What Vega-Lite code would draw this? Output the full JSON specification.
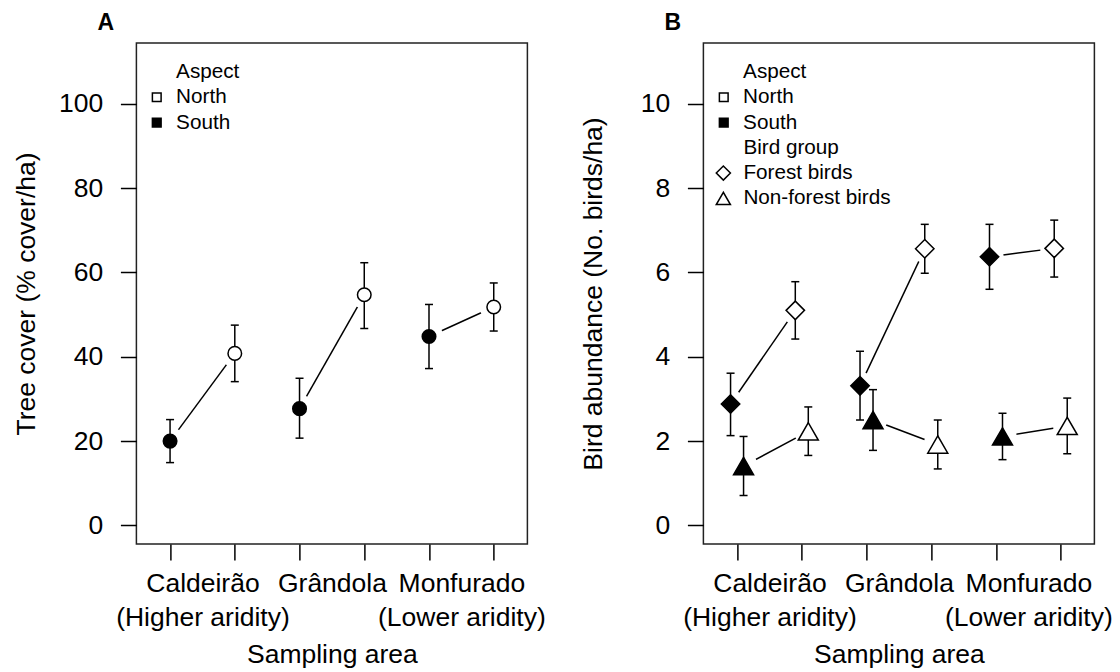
{
  "$schema": "https://vega.github.io/schema/vega-lite/v6.json",
  "background": "white",
  "padding": {"left": 12.4, "top": 11, "right": 0, "bottom": 0},
  "datasets": {
    "tree": [
      {"area": "Caldeirão", "aspect": "South", "site": "Caldeirão South", "mean": 20.0, "lo": 14.9, "hi": 25.1},
      {"area": "Caldeirão", "aspect": "North", "site": "Caldeirão North", "mean": 40.8, "lo": 34.1, "hi": 47.5},
      {"area": "Grândola", "aspect": "South", "site": "Grândola South", "mean": 27.7, "lo": 20.7, "hi": 34.9},
      {"area": "Grândola", "aspect": "North", "site": "Grândola North", "mean": 54.7, "lo": 46.7, "hi": 62.3},
      {"area": "Monfurado", "aspect": "South", "site": "Monfurado South", "mean": 44.8, "lo": 37.2, "hi": 52.4},
      {"area": "Monfurado", "aspect": "North", "site": "Monfurado North", "mean": 51.8, "lo": 46.1, "hi": 57.5}
    ],
    "birds": [
      {"area": "Caldeirão", "aspect": "South", "site": "Caldeirão South", "group": "Forest birds", "mean": 2.88, "lo": 2.13, "hi": 3.61},
      {"area": "Caldeirão", "aspect": "North", "site": "Caldeirão North", "group": "Forest birds", "mean": 5.10, "lo": 4.42, "hi": 5.78},
      {"area": "Grândola", "aspect": "South", "site": "Grândola South", "group": "Forest birds", "mean": 3.31, "lo": 2.50, "hi": 4.13},
      {"area": "Grândola", "aspect": "North", "site": "Grândola North", "group": "Forest birds", "mean": 6.56, "lo": 5.98, "hi": 7.14},
      {"area": "Monfurado", "aspect": "South", "site": "Monfurado South", "group": "Forest birds", "mean": 6.37, "lo": 5.60, "hi": 7.14},
      {"area": "Monfurado", "aspect": "North", "site": "Monfurado North", "group": "Forest birds", "mean": 6.57, "lo": 5.89, "hi": 7.24},
      {"area": "Caldeirão", "aspect": "South", "site": "Caldeirão South", "group": "Non-forest birds", "mean": 1.41, "lo": 0.71, "hi": 2.11},
      {"area": "Caldeirão", "aspect": "North", "site": "Caldeirão North", "group": "Non-forest birds", "mean": 2.23, "lo": 1.66, "hi": 2.81},
      {"area": "Grândola", "aspect": "South", "site": "Grândola South", "group": "Non-forest birds", "mean": 2.50, "lo": 1.78, "hi": 3.22},
      {"area": "Grândola", "aspect": "North", "site": "Grândola North", "group": "Non-forest birds", "mean": 1.92, "lo": 1.34, "hi": 2.50},
      {"area": "Monfurado", "aspect": "South", "site": "Monfurado South", "group": "Non-forest birds", "mean": 2.11, "lo": 1.56, "hi": 2.66},
      {"area": "Monfurado", "aspect": "North", "site": "Monfurado North", "group": "Non-forest birds", "mean": 2.36, "lo": 1.70, "hi": 3.02}
    ]
  },
  "bounds": "flush",
  "spacing": 176,
  "resolve": {
    "scale": {"x": "independent", "y": "independent", "fill": "independent", "stroke": "independent", "shape": "independent"},
    "legend": {"fill": "independent", "stroke": "independent", "shape": "independent"}
  },
  "hconcat": [
    {
      "width": 391,
      "height": 501,
      "title": {"text": "A", "anchor": "start", "frame": "group", "dx": -39, "offset": -10, "baseline": "alphabetic", "fontSize": 23, "fontWeight": "bold", "font": "Liberation Sans", "color": "black"},
      "data": {"name": "tree"},
      "encoding": {
        "x": {
          "field": "site", "type": "ordinal",
          "scale": {"type": "point", "domain": ["Caldeirão South", "Caldeirão North", "Grândola South", "Grândola North", "Monfurado South", "Monfurado North"], "padding": 0.52},
          "axis": {
            "title": "Sampling area",
            "labelExpr": "datum.value == 'Caldeirão South' ? ['Caldeirão', '(Higher aridity)'] : datum.value == 'Grândola South' ? 'Grândola' : datum.value == 'Monfurado South' ? ['Monfurado', '(Lower aridity)'] : ''",
            "labelOffset": 32.4, "labelAngle": 0, "labelOverlap": false, "labelBaseline": "top", "labelLineHeight": 34, "labelPadding": 10.4, "labelLimit": 400,
            "minExtent": 86, "maxExtent": 86, "titlePadding": 11.4
          }
        },
        "y": {
          "field": "mean", "type": "quantitative", "title": "Tree cover (% cover/ha)",
          "scale": {"domain": [-4.4, 114.4], "nice": false, "zero": false},
          "axis": {"values": [0, 20, 40, 60, 80, 100], "labelPadding": 17.6, "minExtent": 80, "maxExtent": 80, "titlePadding": 15.4}
        }
      },
      "layer": [
        {"mark": {"type": "line", "color": "black", "strokeWidth": 1.5}, "encoding": {"detail": {"field": "area", "type": "nominal"}}},
        {"mark": {"type": "point", "shape": "circle", "filled": true, "color": "white", "opacity": 1, "size": 800, "strokeWidth": 0}},
        {"mark": {"type": "rule", "color": "black", "strokeWidth": 1.5},
         "encoding": {"y": {"field": "lo", "type": "quantitative", "title": "Tree cover (% cover/ha)", "scale": {"domain": [-4.4, 114.4], "nice": false, "zero": false}}, "y2": {"field": "hi"}}},
        {"mark": {"type": "tick", "color": "black", "size": 8, "thickness": 1.5, "opacity": 1},
         "encoding": {"y": {"field": "lo", "type": "quantitative", "title": "Tree cover (% cover/ha)", "scale": {"domain": [-4.4, 114.4], "nice": false, "zero": false}}}},
        {"mark": {"type": "tick", "color": "black", "size": 8, "thickness": 1.5, "opacity": 1},
         "encoding": {"y": {"field": "hi", "type": "quantitative", "title": "Tree cover (% cover/ha)", "scale": {"domain": [-4.4, 114.4], "nice": false, "zero": false}}}},
        {"mark": {"type": "point", "shape": "circle", "filled": true, "opacity": 1, "size": 184, "strokeWidth": 1.5},
         "encoding": {
           "fill": {"field": "aspect", "type": "nominal", "scale": {"domain": ["Aspect", "North", "South"], "range": ["transparent", "white", "black"]},
             "legend": {"title": null, "orient": "none", "legendX": 10, "legendY": 18.5, "symbolType": "square", "symbolSize": 76, "symbolStrokeWidth": 1.5, "labelFont": "Liberation Sans", "labelFontSize": 20.7, "labelColor": "black", "labelOffset": 9, "rowPadding": 3.4, "padding": 0}},
           "stroke": {"field": "aspect", "type": "nominal", "scale": {"domain": ["Aspect", "North", "South"], "range": ["transparent", "black", "black"]},
             "legend": {"title": null, "orient": "none", "legendX": 10, "legendY": 18.5, "symbolType": "square", "symbolSize": 76, "symbolStrokeWidth": 1.5, "labelFont": "Liberation Sans", "labelFontSize": 20.7, "labelColor": "black", "labelOffset": 9, "rowPadding": 3.4, "padding": 0}}
         }}
      ]
    },
    {
      "width": 391,
      "height": 501,
      "title": {"text": "B", "anchor": "start", "frame": "group", "dx": -39, "offset": -10, "baseline": "alphabetic", "fontSize": 23, "fontWeight": "bold", "font": "Liberation Sans", "color": "black"},
      "data": {"name": "birds"},
      "encoding": {
        "x": {
          "field": "site", "type": "ordinal",
          "scale": {"type": "point", "domain": ["Caldeirão South", "Caldeirão North", "Grândola South", "Grândola North", "Monfurado South", "Monfurado North"], "padding": 0.52},
          "axis": {
            "title": "Sampling area",
            "labelExpr": "datum.value == 'Caldeirão South' ? ['Caldeirão', '(Higher aridity)'] : datum.value == 'Grândola South' ? 'Grândola' : datum.value == 'Monfurado South' ? ['Monfurado', '(Lower aridity)'] : ''",
            "labelOffset": 32.4, "labelAngle": 0, "labelOverlap": false, "labelBaseline": "top", "labelLineHeight": 34, "labelPadding": 10.4, "labelLimit": 400,
            "minExtent": 86, "maxExtent": 86, "titlePadding": 11.4
          }
        },
        "y": {
          "field": "mean", "type": "quantitative", "title": "Bird abundance (No. birds/ha)",
          "scale": {"domain": [-0.44, 11.44], "nice": false, "zero": false},
          "axis": {"values": [0, 2, 4, 6, 8, 10], "labelPadding": 17.6, "minExtent": 80, "maxExtent": 80, "titlePadding": 15.4}
        }
      },
      "layer": [
        {"transform": [{"filter": "datum.group === 'Forest birds'"}],
         "mark": {"type": "line", "color": "black", "strokeWidth": 1.5, "xOffset": -6.5}, "encoding": {"detail": {"field": "area", "type": "nominal"}}},
        {"transform": [{"filter": "datum.group === 'Non-forest birds'"}],
         "mark": {"type": "line", "color": "black", "strokeWidth": 1.5, "xOffset": 6.5}, "encoding": {"detail": {"field": "area", "type": "nominal"}}},
        {"transform": [{"filter": "datum.group === 'Forest birds'"}],
         "mark": {"type": "point", "shape": "circle", "filled": true, "color": "white", "opacity": 1, "size": 800, "strokeWidth": 0, "xOffset": -6.5}},
        {"transform": [{"filter": "datum.group === 'Non-forest birds'"}],
         "mark": {"type": "point", "shape": "circle", "filled": true, "color": "white", "opacity": 1, "size": 800, "strokeWidth": 0, "xOffset": 6.5}},
        {"transform": [{"filter": "datum.group === 'Forest birds'"}],
         "mark": {"type": "rule", "color": "black", "strokeWidth": 1.5, "xOffset": -6.5},
         "encoding": {"y": {"field": "lo", "type": "quantitative", "title": "Bird abundance (No. birds/ha)", "scale": {"domain": [-0.44, 11.44], "nice": false, "zero": false}}, "y2": {"field": "hi"}}},
        {"transform": [{"filter": "datum.group === 'Non-forest birds'"}],
         "mark": {"type": "rule", "color": "black", "strokeWidth": 1.5, "xOffset": 6.5},
         "encoding": {"y": {"field": "lo", "type": "quantitative", "title": "Bird abundance (No. birds/ha)", "scale": {"domain": [-0.44, 11.44], "nice": false, "zero": false}}, "y2": {"field": "hi"}}},
        {"transform": [{"filter": "datum.group === 'Forest birds'"}],
         "mark": {"type": "tick", "color": "black", "size": 8, "thickness": 1.5, "opacity": 1, "xOffset": -6.5},
         "encoding": {"y": {"field": "lo", "type": "quantitative", "title": "Bird abundance (No. birds/ha)", "scale": {"domain": [-0.44, 11.44], "nice": false, "zero": false}}}},
        {"transform": [{"filter": "datum.group === 'Forest birds'"}],
         "mark": {"type": "tick", "color": "black", "size": 8, "thickness": 1.5, "opacity": 1, "xOffset": -6.5},
         "encoding": {"y": {"field": "hi", "type": "quantitative", "title": "Bird abundance (No. birds/ha)", "scale": {"domain": [-0.44, 11.44], "nice": false, "zero": false}}}},
        {"transform": [{"filter": "datum.group === 'Non-forest birds'"}],
         "mark": {"type": "tick", "color": "black", "size": 8, "thickness": 1.5, "opacity": 1, "xOffset": 6.5},
         "encoding": {"y": {"field": "lo", "type": "quantitative", "title": "Bird abundance (No. birds/ha)", "scale": {"domain": [-0.44, 11.44], "nice": false, "zero": false}}}},
        {"transform": [{"filter": "datum.group === 'Non-forest birds'"}],
         "mark": {"type": "tick", "color": "black", "size": 8, "thickness": 1.5, "opacity": 1, "xOffset": 6.5},
         "encoding": {"y": {"field": "hi", "type": "quantitative", "title": "Bird abundance (No. birds/ha)", "scale": {"domain": [-0.44, 11.44], "nice": false, "zero": false}}}},
        {"transform": [{"filter": "datum.group === 'Forest birds'"}],
         "mark": {"type": "point", "filled": true, "opacity": 1, "size": 340, "strokeWidth": 1.5, "xOffset": -6.5},
         "encoding": {
           "fill": {"field": "aspect", "type": "nominal", "scale": {"domain": ["Aspect", "North", "South"], "range": ["transparent", "white", "black"]},
             "legend": {"title": null, "orient": "none", "legendX": 10, "legendY": 18.5, "symbolType": "square", "symbolSize": 76, "symbolStrokeWidth": 1.5, "labelFont": "Liberation Sans", "labelFontSize": 20.7, "labelColor": "black", "labelOffset": 9, "rowPadding": 3.4, "padding": 0}},
           "stroke": {"field": "aspect", "type": "nominal", "scale": {"domain": ["Aspect", "North", "South"], "range": ["transparent", "black", "black"]},
             "legend": {"title": null, "orient": "none", "legendX": 10, "legendY": 18.5, "symbolType": "square", "symbolSize": 76, "symbolStrokeWidth": 1.5, "labelFont": "Liberation Sans", "labelFontSize": 20.7, "labelColor": "black", "labelOffset": 9, "rowPadding": 3.4, "padding": 0}},
           "shape": {"field": "group", "type": "nominal", "scale": {"domain": ["Bird group", "Forest birds", "Non-forest birds"], "range": ["M0,0", "diamond", "triangle-up"]},
             "legend": {"title": null, "orient": "none", "legendX": 9.6, "legendY": 94.3, "symbolSize": 200, "symbolFillColor": "white", "symbolStrokeColor": "black", "symbolStrokeWidth": 1.5, "labelFont": "Liberation Sans", "labelFontSize": 20.7, "labelColor": "black", "labelOffset": 9.7, "rowPadding": 3.4, "padding": 0}}
         }},
        {"transform": [{"filter": "datum.group === 'Non-forest birds'"}],
         "mark": {"type": "point", "filled": true, "opacity": 1, "size": 400, "strokeWidth": 1.5, "xOffset": 6.5},
         "encoding": {
           "fill": {"field": "aspect", "type": "nominal", "scale": {"domain": ["Aspect", "North", "South"], "range": ["transparent", "white", "black"]},
             "legend": {"title": null, "orient": "none", "legendX": 10, "legendY": 18.5, "symbolType": "square", "symbolSize": 76, "symbolStrokeWidth": 1.5, "labelFont": "Liberation Sans", "labelFontSize": 20.7, "labelColor": "black", "labelOffset": 9, "rowPadding": 3.4, "padding": 0}},
           "stroke": {"field": "aspect", "type": "nominal", "scale": {"domain": ["Aspect", "North", "South"], "range": ["transparent", "black", "black"]},
             "legend": {"title": null, "orient": "none", "legendX": 10, "legendY": 18.5, "symbolType": "square", "symbolSize": 76, "symbolStrokeWidth": 1.5, "labelFont": "Liberation Sans", "labelFontSize": 20.7, "labelColor": "black", "labelOffset": 9, "rowPadding": 3.4, "padding": 0}},
           "shape": {"field": "group", "type": "nominal", "scale": {"domain": ["Bird group", "Forest birds", "Non-forest birds"], "range": ["M0,0", "diamond", "triangle-up"]},
             "legend": {"title": null, "orient": "none", "legendX": 9.6, "legendY": 94.3, "symbolSize": 200, "symbolFillColor": "white", "symbolStrokeColor": "black", "symbolStrokeWidth": 1.5, "labelFont": "Liberation Sans", "labelFontSize": 20.7, "labelColor": "black", "labelOffset": 9.7, "rowPadding": 3.4, "padding": 0}}
         }}
      ]
    }
  ],
  "config": {
    "font": "Liberation Sans",
    "view": {"stroke": "#222222", "strokeWidth": 1.5},
    "axis": {
      "domain": false, "grid": false,
      "tickColor": "black", "tickWidth": 1.5, "tickSize": 16,
      "labelFont": "Liberation Sans", "labelFontSize": 26.5, "labelColor": "black",
      "titleFont": "Liberation Sans", "titleFontSize": 26.5, "titleFontWeight": "normal", "titleColor": "black"
    }
  }
}
